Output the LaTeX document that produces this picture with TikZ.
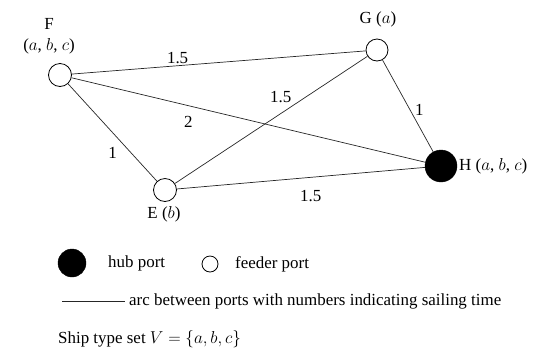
\documentclass[tikz,border=0pt]{standalone}
\usepackage{fontspec}
\setmainfont{Liberation Serif}
\usetikzlibrary{positioning}

\begin{document}
\begin{tikzpicture}[x=1bp,y=-1bp,
  feeder/.style={draw,circle,fill=white,line width=0.8bp,minimum size=23bp,inner sep=0pt},
  hub/.style={draw,circle,fill=black,minimum size=32bp,inner sep=0pt},
  arc/.style={line width=0.7bp,draw=black!85},
  txt/.style={font=\fontsize{17}{20}\selectfont,inner sep=1bp}]
  \useasboundingbox (0,0) rectangle (551,353);
  % ports
  \node[feeder] (F) at (60,75) {};
  \node[feeder,minimum size=22bp] (G) at (377,50) {};
  \node[hub] (H) at (441,166) {};
  \node[feeder] (E) at (165,190) {};
  % port names
  \node[txt,align=center] (Flab) at (49,36) {F\\[1bp]($a$, $b$, $c$)};
  \node[txt] (Glab) at (378,19) {G ($a$)};
  \node[txt,anchor=west] (Hlab) at (458,166) {H ($a$, $b$, $c$)};
  \node[txt] (Elab) at (164,214) {E ($b$)};
  % arcs
  \draw[arc] (F) -- node[txt,pos=0.36,above=1bp] {1.5} (G);
  \draw[arc] (F) -- node[txt,pos=0.33,below=9bp] {2} (H);
  \draw[arc] (F) -- node[txt,pos=0.5,below=13bp] {1} (E);
  \draw[arc] (E) -- node[txt,pos=0.56,above=8bp,xshift=-2bp] {1.5} (G);
  \draw[arc] (G) -- node[txt,pos=0.5,right=6bp,yshift=-4bp] {1} (H);
  \draw[arc] (E) -- node[txt,pos=0.54,below=12bp] {1.5} (H);
  % legend
  \node[hub,minimum size=28bp] (hubkey) at (72,263) {};
  \node[txt,anchor=west] (hubtxt) at (107,263) {hub port};
  \node[feeder,minimum size=16bp] (feedkey) at (210,264) {};
  \node[txt,anchor=west] (feedtxt) at (234,264) {feeder port};
  \coordinate (arcA) at (62,301);
  \coordinate (arcB) at (125,301);
  \draw[arc] (arcA) -- (arcB);
  \node[txt,anchor=west] (arctxt) at (128,301) {arc between ports with numbers indicating sailing time};
  \node[txt,anchor=west] (settxt) at (57,339) {Ship type set $V=\{a,b,c\}$};
\end{tikzpicture}
\end{document}
